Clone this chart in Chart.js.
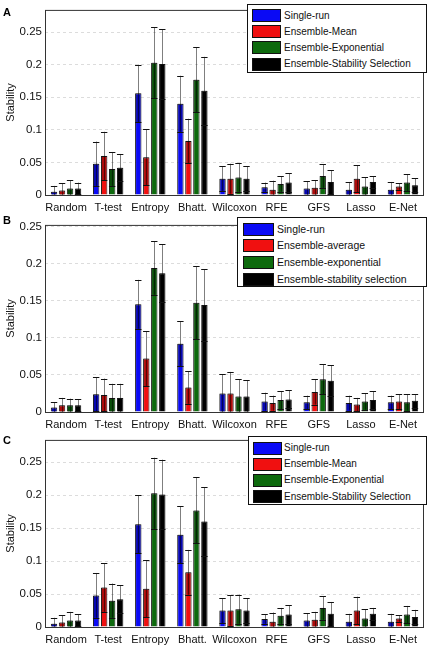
<!DOCTYPE html>
<html>
<head>
<meta charset="utf-8">
<script src="https://cdn.jsdelivr.net/npm/chart.js@4/dist/chart.umd.min.js"></script>
<style>
  body { margin: 0; background: #fff; font-family: "Liberation Sans", Arial, sans-serif; }
  #wrap { position: relative; width: 430px; height: 647px; overflow: hidden; }
  canvas { position: absolute; left: 0; }
  .tag { position: absolute; left: 3px; font-weight: bold; font-size: 11px; line-height: 11px; }
  .legend { position: absolute; background: #fff; border: 1px solid #111; box-sizing: border-box; z-index: 2; }
  .row { position: absolute; left: 0; white-space: nowrap; font-size: 10px; color: #111; }
  .sw { position: absolute; border: 1px solid #111; box-sizing: border-box; }
</style>
</head>
<body>
<div id="wrap">
  <canvas id="chartA" width="430" height="215" style="top:0px"></canvas>
  <canvas id="chartB" width="430" height="215" style="top:215px"></canvas>
  <canvas id="chartC" width="430" height="217" style="top:430px"></canvas>
  <div class="tag" style="top:7px">A</div>
  <div class="tag" style="top:215px">B</div>
  <div class="tag" style="top:435px">C</div>
</div>
<script>
// categories
const methods = ["Random", "T-test", "Entropy", "Bhatt.", "Wilcoxon", "RFE", "GFS", "Lasso", "E-Net"];
const colors = ["#0a0af5", "#f01010", "#0d6a0d", "#000000"];

// panel A / C (same figure)
const labelsA = ["Single-run", "Ensemble-Mean", "Ensemble-Exponential", "Ensemble-Stability Selection"];
const singleA = [0.005, 0.048, 0.156, 0.140, 0.025, 0.012, 0.010, 0.008, 0.008];
const meanA   = [0.007, 0.060, 0.058, 0.083, 0.025, 0.008, 0.011, 0.025, 0.013];
const expA    = [0.010, 0.040, 0.203, 0.177, 0.027, 0.017, 0.029, 0.013, 0.019];
const stabA   = [0.010, 0.042, 0.201, 0.160, 0.025, 0.019, 0.020, 0.020, 0.015];
const singleErrA = [0.009, 0.034, 0.044, 0.043, 0.019, 0.007, 0.011, 0.012, 0.012];
const meanErrA   = [0.011, 0.037, 0.043, 0.034, 0.023, 0.014, 0.012, 0.021, 0.005];
const expErrA    = [0.013, 0.026, 0.054, 0.050, 0.022, 0.012, 0.018, 0.014, 0.013];
const stabErrA   = [0.009, 0.021, 0.053, 0.052, 0.019, 0.014, 0.018, 0.009, 0.011];

// panel B
const labelsB = ["Single-run", "Ensemble-average", "Ensemble-exponential", "Ensemble-stability selection"];
const singleB = [0.006, 0.024, 0.145, 0.092, 0.025, 0.014, 0.013, 0.012, 0.013];
const avgB    = [0.009, 0.023, 0.072, 0.033, 0.025, 0.012, 0.027, 0.010, 0.014];
const expB    = [0.009, 0.019, 0.194, 0.147, 0.021, 0.016, 0.044, 0.014, 0.013];
const stabB   = [0.009, 0.019, 0.187, 0.144, 0.021, 0.017, 0.042, 0.016, 0.015];
const singleErrB = [0.007, 0.023, 0.033, 0.030, 0.026, 0.012, 0.009, 0.010, 0.009];
const avgErrB    = [0.010, 0.022, 0.037, 0.022, 0.029, 0.010, 0.017, 0.009, 0.010];
const expErrB    = [0.009, 0.019, 0.036, 0.049, 0.023, 0.012, 0.020, 0.011, 0.011];
const stabErrB   = [0.008, 0.019, 0.039, 0.048, 0.022, 0.012, 0.021, 0.012, 0.009];

const yTicks = [0, 0.05, 0.1, 0.15, 0.2, 0.25];

// error bars: darker band inside the bar, whisker, caps
const errorBars = {
  id: "errorBars",
  afterDatasetsDraw(chart) {
    const ctx = chart.ctx;
    const y = chart.scales.y;
    chart.data.datasets.forEach((ds, i) => {
      const meta = chart.getDatasetMeta(i);
      meta.data.forEach((bar, j) => {
        const v = ds.data[j], e = ds.errors[j];
        const x = bar.x, w = bar.width;
        const yTop = y.getPixelForValue(v);
        const yUp = y.getPixelForValue(v + e);
        const yLo = y.getPixelForValue(Math.max(0, v - e));
        ctx.save();
        ctx.fillStyle = "rgba(0,0,0,0.28)";
        ctx.fillRect(x - w / 2 + 1, yTop, w - 2, yLo - yTop);
        ctx.strokeStyle = "rgba(0,0,0,0.5)";
        ctx.lineWidth = 1;
        ctx.beginPath();
        ctx.moveTo(Math.round(x) + 0.5, yLo);
        ctx.lineTo(Math.round(x) + 0.5, yUp);
        ctx.stroke();
        ctx.strokeStyle = "#111";
        ctx.beginPath();
        ctx.moveTo(x - w / 2, Math.round(yUp) + 0.5);
        ctx.lineTo(x + w / 2, Math.round(yUp) + 0.5);
        ctx.moveTo(x - w / 2, Math.round(yLo) + 0.5);
        ctx.lineTo(x + w / 2, Math.round(yLo) + 0.5);
        ctx.stroke();
        ctx.restore();
      });
    });
  }
};

const frame = {
  id: "frame",
  afterDraw(chart) {
    const a = chart.chartArea, ctx = chart.ctx;
    ctx.save();
    ctx.strokeStyle = "#333";
    ctx.lineWidth = 1;
    ctx.strokeRect(a.left + 0.5, a.top + 0.5, a.right - a.left - 1, a.bottom - a.top);
    ctx.restore();
  }
};

function makeChart(id, series, errs, names, yMax, padTop, xHeight) {
  new Chart(document.getElementById(id), {
    type: "bar",
    data: {
      labels: methods,
      datasets: series.map((s, i) => ({
        label: names[i],
        data: s,
        errors: errs[i],
        backgroundColor: colors[i],
        borderColor: "#1a1a1a",
        borderWidth: 1,
        categoryPercentage: 0.76,
        barPercentage: 0.8
      }))
    },
    options: {
      responsive: false,
      animation: false,
      layout: { padding: { top: padTop, right: 6, left: 0, bottom: 0 } },
      plugins: { legend: { display: false }, tooltip: { enabled: false } },
      scales: {
        x: {
          grid: { display: false, drawTicks: false },
          border: { display: false },
          ticks: { color: "#111", padding: 6, font: { family: "Liberation Sans", size: 11 }, maxRotation: 0, autoSkip: false },
          afterFit(s) { s.height = xHeight; }
        },
        y: {
          min: 0,
          max: yMax,
          afterBuildTicks(s) { s.ticks = yTicks.map(v => ({ value: v })); },
          grid: { color: "#dcdcdc", drawTicks: false },
          border: { display: false, dash: [3, 3] },
          ticks: {
            color: "#111", padding: 3,
            font: { family: "Liberation Sans", size: 11.5 },
            callback: v => String(parseFloat(v.toFixed(2)))
          },
          title: { display: true, text: "Stability", color: "#111", padding: { top: 4, bottom: 0 }, font: { family: "Liberation Sans", size: 11 } },
          afterFit(s) { s.width = 45; }
        }
      }
    },
    plugins: [errorBars, frame]
  });
}

makeChart("chartA", [singleA, meanA, expA, stabA], [singleErrA, meanErrA, expErrA, stabErrA], labelsA, 0.284, 3, 20);
makeChart("chartB", [singleB, avgB, expB, stabB], [singleErrB, avgErrB, expErrB, stabErrB], labelsB, 0.252, 2, 18);
makeChart("chartC", [singleA, meanA, expA, stabA], [singleErrA, meanErrA, expErrA, stabErrA], labelsA, 0.284, 5, 20);

// legends
function makeLegend(names, left, top, width, height, rowTop, rowGap, swLeft, swW, textLeft, fontSize) {
  const box = document.createElement("div");
  box.className = "legend";
  Object.assign(box.style, { left: left + "px", top: top + "px", width: width + "px", height: height + "px" });
  names.forEach((n, i) => {
    const cy = rowTop + i * rowGap;
    const sw = document.createElement("div");
    sw.className = "sw";
    Object.assign(sw.style, { left: swLeft + "px", top: (cy - 6.5) + "px", width: swW + "px", height: "13px", background: colors[i] });
    box.appendChild(sw);
    const t = document.createElement("div");
    t.className = "row";
    t.textContent = n;
    Object.assign(t.style, { left: textLeft + "px", top: (cy - fontSize * 0.6) + "px", fontSize: fontSize + "px", lineHeight: (fontSize * 1.2) + "px" });
    box.appendChild(t);
  });
  document.getElementById("wrap").appendChild(box);
}
makeLegend(labelsA, 247, 4, 180, 69, 10.5, 16.2, 4, 29, 36, 10);
makeLegend(labelsB, 237, 217, 190, 70, 11, 16.7, 5, 31, 39, 10.5);
makeLegend(labelsA, 248, 436, 179, 69, 11, 16.2, 4, 29, 35, 10);
</script>
</body>
</html>
